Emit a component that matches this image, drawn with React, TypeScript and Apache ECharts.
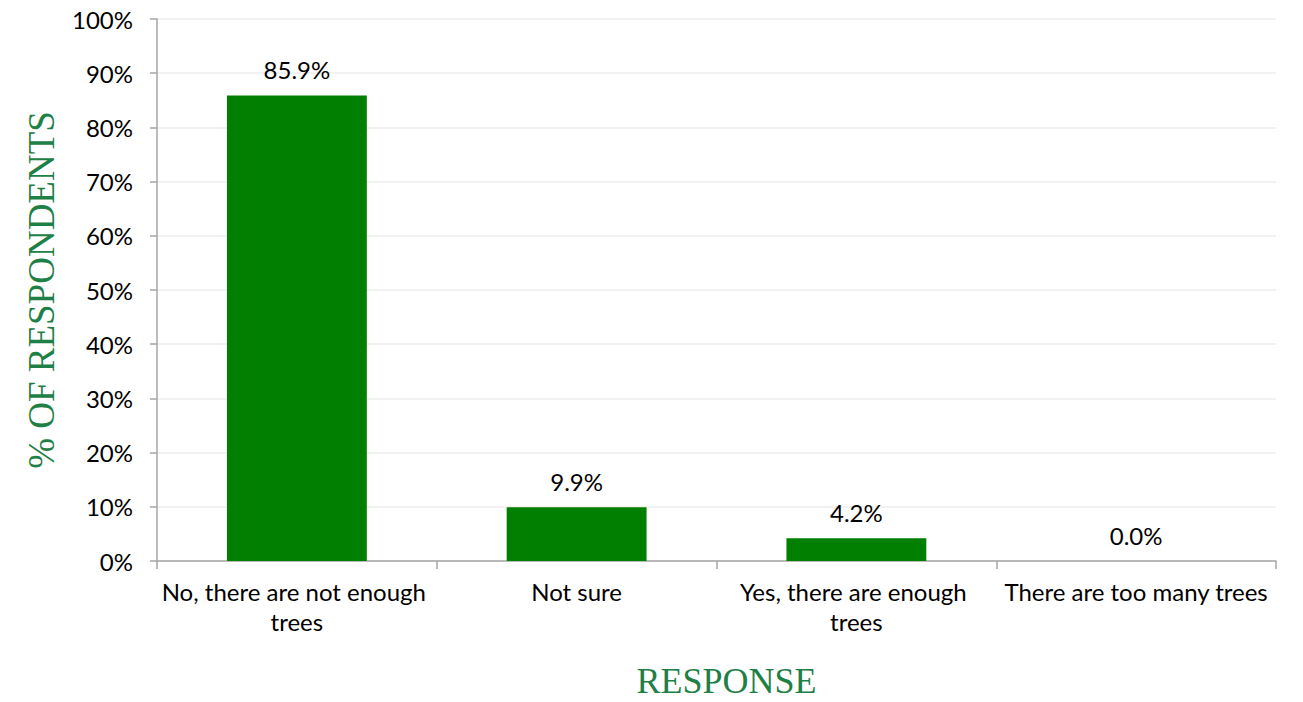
import React, { useEffect, useRef } from "react";
import * as echarts from "echarts";

const categories = [
  "No, there are not enough trees",
  "Not sure",
  "Yes, there are enough trees",
  "There are too many trees",
];
const values = [85.9, 9.9, 4.2, 0.0];
const yTicks = [0, 10, 20, 30, 40, 50, 60, 70, 80, 90, 100];

export default function App() {
  const ref = useRef<HTMLDivElement>(null);
  useEffect(() => {
    document.body.style.margin = "0";
    const chart = echarts.init(ref.current!, undefined, { renderer: "svg" });
    const axisGray = "#a6a6a6";
    const titleGreen = "#1f8046";
    chart.setOption({
      animation: false,
      grid: { left: 157, right: 27, top: 19, bottom: 141, outerBoundsMode: "none", containLabel: false },
      xAxis: {
        type: "category",
        data: categories,
        name: "RESPONSE",
        nameLocation: "middle",
        nameGap: 102,
        nameTextStyle: {
          fontFamily: "Liberation Serif",
          fontSize: 36,
          lineHeight: 36,
          color: titleGreen,
          padding: [0, 0, 0, 20],
        },
        axisLine: { lineStyle: { color: axisGray, width: 1.5 } },
        axisTick: { show: true, length: 8, lineStyle: { color: axisGray, width: 1.5 } },
        axisLabel: {
          fontFamily: "Lato",
          fontSize: 24,
          color: "#000",
          margin: 15,
          lineHeight: 30,
          width: 280,
          overflow: "break",
          interval: 0,
        },
      },
      yAxis: {
        type: "value",
        min: 0,
        max: 100,
        interval: 10,
        name: "% OF RESPONDENTS",
        nameLocation: "middle",
        nameGap: 97,
        nameRotate: 90,
        nameTextStyle: {
          fontFamily: "Liberation Serif",
          fontSize: 37,
          color: titleGreen,
        },
        axisLine: { show: true, lineStyle: { color: axisGray, width: 1.5 } },
        axisTick: { show: true, length: 7, lineStyle: { color: axisGray, width: 1.5 } },
        axisLabel: {
          fontFamily: "Lato",
          fontSize: 24,
          color: "#000",
          margin: 24,
          formatter: (v: number) => (yTicks.includes(v) ? v + "%" : ""),
        },
        splitLine: { lineStyle: { color: "#eeeeee", width: 1.5 } },
      },
      series: [
        {
          type: "bar",
          data: values,
          barWidth: "50%",
          itemStyle: { color: "#017f01" },
          label: {
            show: true,
            position: "top",
            distance: 14,
            fontFamily: "Lato",
            fontSize: 24,
            color: "#000",
            formatter: (p: any) => p.value.toFixed(1) + "%",
          },
        },
      ],
    });
    return () => chart.dispose();
  }, []);
  return <div ref={ref} style={{ width: 1303, height: 702 }} />;
}
